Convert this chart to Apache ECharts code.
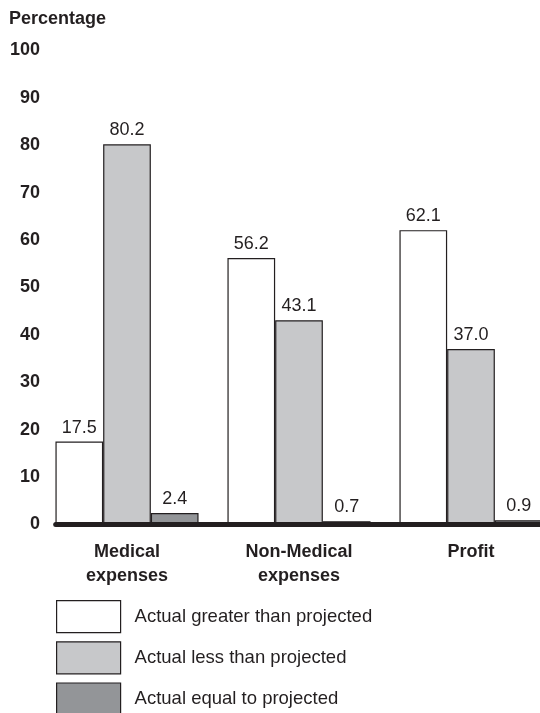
<!DOCTYPE html>
<html>
<head>
<meta charset="utf-8">
<script src="https://cdn.jsdelivr.net/npm/echarts@6/dist/echarts.min.js"></script>
<style>html,body{margin:0;padding:0;background:#fff}#c{width:540px;height:713px}</style>
</head>
<body>
<div id="c"></div>
<script>
const categories = ['Medical\nexpenses', 'Non-Medical\nexpenses', 'Profit'];
const seriesNames = ['Actual greater than projected', 'Actual less than projected', 'Actual equal to projected'];
const greaterVals = [17.5, 56.2, 62.1];
const lessVals = [80.2, 43.1, 37.0];
const equalVals = [2.4, 0.7, 0.9];
const yTicks = [0, 10, 20, 30, 40, 50, 60, 70, 80, 90, 100];

const colors = ['#ffffff', '#c7c8ca', '#939598'];
const ink = '#231f20';
const font = 'Liberation Sans, Arial, Helvetica, sans-serif';

const chart = echarts.init(document.getElementById('c'), null, {renderer: 'canvas'});
const dataSets = [greaterVals, lessVals, equalVals];
const series = dataSets.map((d, i) => ({
  name: seriesNames[i],
  type: 'bar',
  xAxisIndex: 0, yAxisIndex: 0,
  data: d,
  barWidth: 47.7,
  barGap: '0%',
  itemStyle: {color: colors[i], borderColor: ink, borderWidth: 1.2},
  label: {
    show: true, position: 'top', distance: 5,
    color: ink, fontFamily: font, fontSize: 18,
    formatter: p => p.value.toFixed(1)
  }
}));

chart.setOption({
  animation: false,
  backgroundColor: '#fff',
  title: {
    text: 'Percentage', left: 4, top: 5,
    textStyle: {fontFamily: font, fontSize: 18, fontWeight: 'bold', color: ink}
  },
  legend: {
    orient: 'vertical', left: 56, top: 600, height: 300, width: 450, padding: 0,
    itemWidth: 64, itemHeight: 32, itemGap: 8,
    icon: 'rect',
    data: seriesNames,
    itemStyle: {borderWidth: 1.2, borderColor: ink},
    textStyle: {fontFamily: font, fontSize: 18.5, color: ink, padding: [10, 0, 0, 9]}
  },
  grid: [
    {left: 41, width: 516, top: 50.5, height: 474, containLabel: false, outerBoundsMode: 'none'},
    {left: 55.7, right: 0, top: 50.5, height: 474, containLabel: false, outerBoundsMode: 'none'}
  ],
  xAxis: [
    {
      type: 'category', gridIndex: 0, data: categories,
      axisLine: {show: false}, axisTick: {show: false},
      axisLabel: {fontFamily: font, fontSize: 18, fontWeight: 'bold', color: ink, lineHeight: 24, margin: 16}
    },
    {
      type: 'value', gridIndex: 1, min: 0, max: 1, z: 10,
      axisLine: {show: true, lineStyle: {color: ink, width: 5}},
      axisTick: {show: false}, axisLabel: {show: false}, splitLine: {show: false}
    }
  ],
  yAxis: [
    {
      type: 'value', gridIndex: 0, min: yTicks[0], max: yTicks[yTicks.length - 1], interval: 10,
      axisLine: {show: false}, axisTick: {show: false}, splitLine: {show: false},
      axisLabel: {fontFamily: font, fontSize: 18, fontWeight: 'bold', color: ink, margin: 1}
    },
    {
      type: 'value', gridIndex: 1, min: 0, max: 100, show: false
    }
  ],
  series: series
});
</script>
</body>
</html>
